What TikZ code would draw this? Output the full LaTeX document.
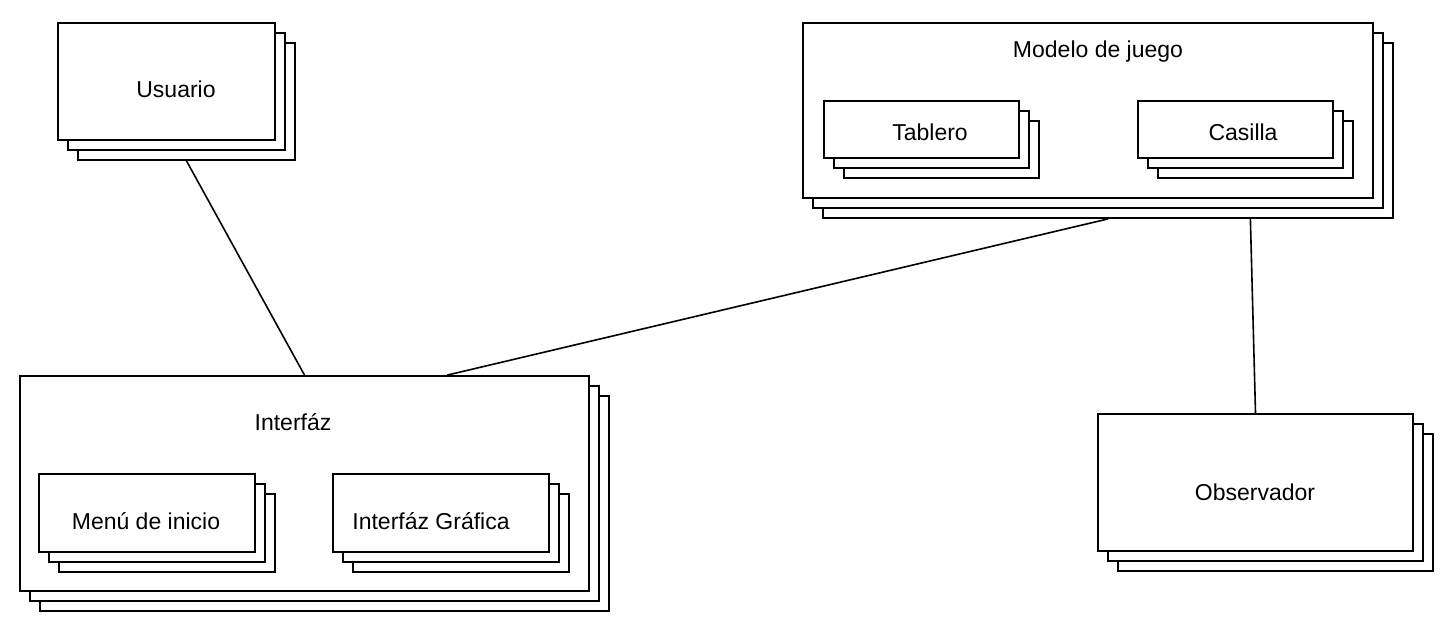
\documentclass[tikz,border=0pt]{standalone}
\usepackage{fontspec}
\setmainfont{Liberation Sans}
\usetikzlibrary{fit,calc}
\tikzset{
  layer/.style={draw=black, fill=white, line width=0.9pt, inner sep=0pt},
  lbl/.style={font=\fontsize{11.5}{14}\selectfont, inner sep=0pt, anchor=center},
  conn/.style={draw=black, line width=0.8pt}
}
\newcommand{\stk}[5]{%
  \node[layer, fit={(#2+20,#3+20) (#4+20,#5+20)}] (#1c) {};
  \node[layer, fit={(#2+10,#3+10) (#4+10,#5+10)}] (#1b) {};
  \node[layer, fit={(#2,#3) (#4,#5)}] (#1) {};
}
\begin{document}
\begin{tikzpicture}[x=0.5pt,y=-0.5pt]
\useasboundingbox (0,0) rectangle (1455,634);
% Usuario
\stk{usu}{58}{23}{275}{140}
\node[lbl] (usuT) at (176,89) {Usuario};
% Interfaz
\stk{intf}{20}{376}{589}{591}
\node[lbl] (intfT) at (293,422) {Interfáz};
\stk{menu}{39}{474}{255}{552}
\node[lbl] (menuT) at (146,521) {Menú de inicio};
\stk{igr}{333}{474}{549}{552}
\node[lbl] (igrT) at (431,521) {Interfáz Gráfica};
% Modelo
\stk{mod}{803}{23}{1373}{198}
\node[lbl] (modT) at (1098,52) {Modelo de juego};
\stk{tab}{824}{101}{1019}{158}
\node[lbl] (tabT) at (930,132) {Tablero};
\stk{cas}{1138}{101}{1333}{158}
\node[lbl] (casT) at (1243,132) {Casilla};
% Observador
\stk{obs}{1098}{414}{1413}{551}
\node[lbl] (obsT) at (1255,492) {Observador};
% connectors
\draw[conn] (usuc.south) -- (intf.north);
\draw[conn] (modc.south) -- ($(intf.north west)!0.75!(intf.north east)$);
\draw[conn] ($(modc.south west)!0.749!(modc.south east)$) -- (obs.north);
\end{tikzpicture}
\end{document}
